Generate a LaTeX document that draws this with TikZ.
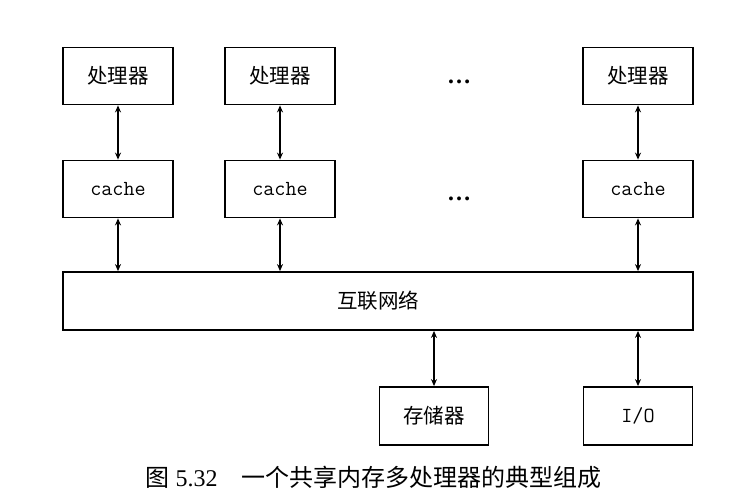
\documentclass[tikz,border=0pt]{standalone}
\usepackage{fontspec}
\setmainfont{Liberation Serif}
\newfontfamily\cjk{Noto Sans CJK SC}
\usetikzlibrary{arrows.meta}
\begin{document}
\begin{tikzpicture}[x=1pt,y=-1pt,
  blk/.style={draw,line width=1.8pt,minimum width=110pt,minimum height=57pt,inner sep=0pt,font=\cjk\fontsize{20.5}{22}\selectfont},
  lat/.style={font=\ttfamily\fontsize{21.5}{22}\selectfont},
  dots/.style={font=\bfseries\fontsize{24}{26}\selectfont,inner sep=0pt,anchor=base},
  link/.style={line width=1.3pt,{Stealth[length=7pt,width=6pt]}-{Stealth[length=7pt,width=6pt]}}]
\useasboundingbox (0,0) rectangle (749,500);
\node[blk] (p1) at (118,76) {处理器};
\node[blk] (p2) at (280,76) {处理器};
\node[blk] (p3) at (638,76) {处理器};
\node[blk,lat] (c1) at (118,189) {cache};
\node[blk,lat] (c2) at (280,189) {cache};
\node[blk,lat] (c3) at (638,189) {cache};
\node[dots] (d1) at (459,84) {…};
\node[dots] (d2) at (459,200) {…};
\node[blk,minimum width=630pt,minimum height=58pt] (net) at (378,301) {互联网络};
\node[blk,minimum width=109pt,minimum height=58pt] (mem) at (434,416) {存储器};
\node[blk,lat,minimum width=109pt,minimum height=58pt] (io) at (638,416) {I/O};
\draw[link] (p1) -- (c1);
\draw[link] (p2) -- (c2);
\draw[link] (p3) -- (c3);
\draw[link] (c1) -- (c1 |- net.north);
\draw[link] (c2) -- (c2 |- net.north);
\draw[link] (c3) -- (c3 |- net.north);
\draw[link] (mem) -- (mem |- net.south);
\draw[link] (io) -- (io |- net.south);
\node[font=\fontsize{24}{26}\selectfont,anchor=west] (cap) at (142,477) {{\cjk 图} 5.32\hspace{1em}{\cjk 一个共享内存多处理器的典型组成}};
\end{tikzpicture}
\end{document}
